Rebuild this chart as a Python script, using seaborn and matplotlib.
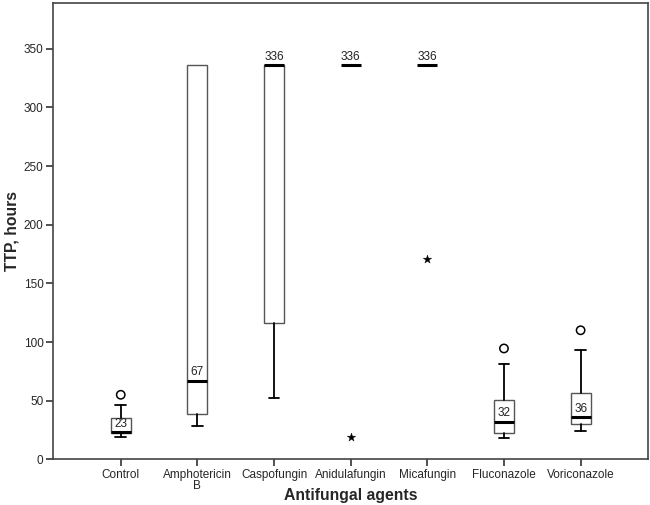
import matplotlib
matplotlib.use("Agg")
import matplotlib.pyplot as plt
import seaborn as sns
import pandas as pd

sns.set_style("white")
plt.rcParams['font.family'] = ['Liberation Sans', 'DejaVu Sans']

categories = ["Control", "Amphotericin\nB", "Caspofungin", "Anidulafungin",
              "Micafungin", "Fluconazole", "Voriconazole"]
medians = [23, 67, 336, 336, 336, 32, 36]
q1 = [22, 38.5, 116, 336, 336, 22, 30]
q3 = [35, 336, 336, 336, 336, 50.5, 56.5]
whisker_lo = [19, 28.5, 52, 336, 336, 18.5, 24]
whisker_hi = [46, 336, 336, 336, 336, 81, 93]
median_labels = ["23", "67", "336", "336", "336", "32", "36"]

# outliers (circles) and extremes (stars)
outlier_cat = [0, 5, 6]
outlier_val = [55, 94.5, 110]
extreme_cat = [3, 4]
extreme_val = [19, 171]

fig = plt.figure(figsize=(6.5, 5.05), dpi=100)
ax = fig.add_axes([0.082, 0.0905, 0.915, 0.9035])

stats = []
for i in range(len(categories)):
    stats.append(dict(med=medians[i], q1=q1[i], q3=q3[i],
                      whislo=whisker_lo[i], whishi=whisker_hi[i], fliers=[]))

edge = "#555555"
res = ax.bxp(stats, positions=list(range(len(categories))), widths=0.26,
             showfliers=False, patch_artist=True,
             boxprops=dict(facecolor="white", edgecolor=edge, linewidth=1.0),
             medianprops=dict(color="black", linewidth=2.2, solid_capstyle="butt"),
             whiskerprops=dict(color="black", linewidth=1.3),
             capprops=dict(color="black", linewidth=1.3),
             capwidths=0.14)
# hide caps / whiskers that coincide with the box edge
for i in range(len(categories)):
    if whisker_lo[i] == q1[i]:
        res['caps'][2 * i].set_visible(False)
        res['whiskers'][2 * i].set_visible(False)
    if whisker_hi[i] == q3[i]:
        res['caps'][2 * i + 1].set_visible(False)
        res['whiskers'][2 * i + 1].set_visible(False)
    if q1[i] == q3[i]:
        res['boxes'][i].set_visible(False)

out_df = pd.DataFrame({"x": outlier_cat, "y": outlier_val})
sns.scatterplot(data=out_df, x="x", y="y", ax=ax, marker="o", s=36,
                facecolor="none", edgecolor="black", linewidth=1.1, zorder=5)
ext_df = pd.DataFrame({"x": extreme_cat, "y": extreme_val})
sns.scatterplot(data=ext_df, x="x", y="y", ax=ax, marker="*", s=40,
                color="black", edgecolor="black", linewidth=0.3, zorder=5)

for i, lab in enumerate(median_labels):
    ax.text(i, medians[i] + 2, lab, ha="center", va="bottom", fontsize=8.5,
            color="#222222")

ax.set_xlim(-0.88, 6.88)
ax.set_ylim(0, 389)
ax.set_yticks([0, 50, 100, 150, 200, 250, 300, 350])
ax.set_xticks(range(len(categories)))
ax.set_xticklabels(categories, fontsize=8.5, linespacing=0.85)
ax.tick_params(axis="y", labelsize=8.5)
ax.tick_params(axis="both", which="major", direction="out", length=5,
               width=1.2, color="#333333", left=True, bottom=True, pad=2)
for s in ax.spines.values():
    s.set_color("#444444")
    s.set_linewidth(1.2)

ax.set_xlabel("Antifungal agents", fontsize=11.3, fontweight="bold", va="center")
ax.xaxis.set_label_coords(0.5, -0.08)
ax.set_ylabel("TTP, hours", fontsize=11.3, fontweight="bold", labelpad=3)

fig.savefig("out.png", dpi=100)
